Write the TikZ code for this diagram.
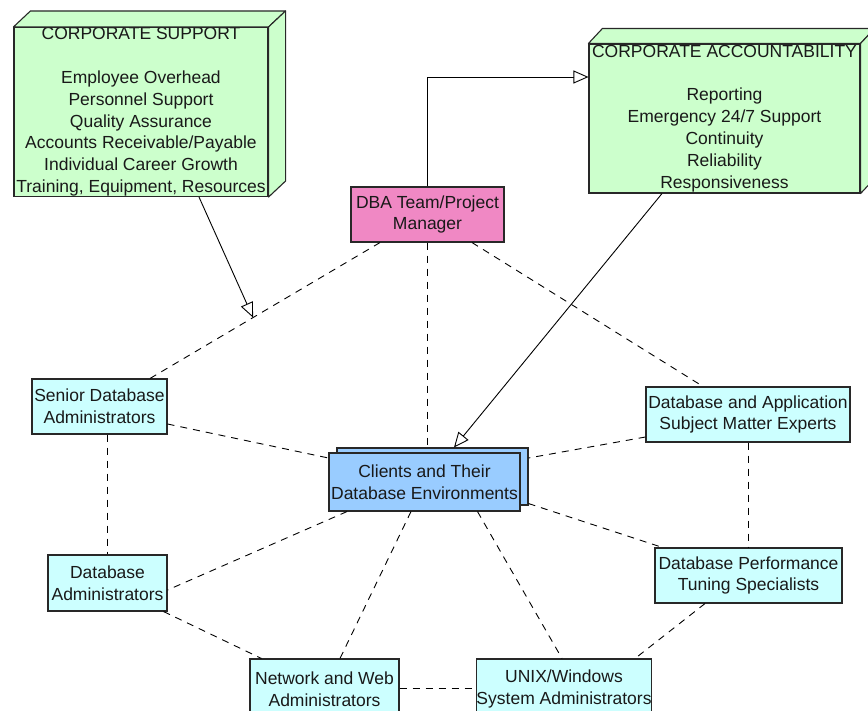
\documentclass[tikz,border=0pt]{standalone}
\usepackage{fontspec}
\setmainfont{Liberation Sans}
\usetikzlibrary{arrows.meta,calc}
\definecolor{supportgreen}{RGB}{204,255,204}
\definecolor{rolecyan}{RGB}{204,255,255}
\definecolor{clientblue}{RGB}{153,204,255}
\definecolor{leadpink}{RGB}{240,136,196}
\definecolor{edgegray}{RGB}{40,40,40}
\begin{document}
\begin{tikzpicture}[x=1pt,y=-1pt,
  every node/.style={font=\fontsize{17.5}{21.8}\selectfont, align=center, inner sep=0pt, text=black!90},
  role/.style={draw=edgegray, line width=1.1pt, fill=rolecyan},
  block/.style={role, fill=supportgreen},
  face/.style={draw=edgegray, line width=1.1pt, fill=supportgreen, line join=round},
  link/.style={line width=0.9pt, dash pattern=on 7pt off 6pt},
  feed/.style={line width=0.9pt, -{Triangle[length=15pt,width=13pt,fill=white]}},
]
\useasboundingbox (0,0) rectangle (868,710);
\clip (0,0) rectangle (868,710);
\fill[white] (0,0) rectangle (868,710);

% corporate blocks (drawn as boxes with depth)
\node[block, minimum width=254pt, minimum height=169pt] (cs) at (141,112)
  {CORPORATE SUPPORT\\[21.8pt]Employee Overhead\\Personnel Support\\Quality Assurance\\Accounts Receivable/Payable\\Individual Career Growth\\Training, Equipment, Resources};
\draw[face] (cs.north west) -- ++(17,-16) -- ($(cs.north east)+(17,-16)$) -- (cs.north east) -- cycle;
\draw[face] (cs.north east) -- ++(17,-16) -- ($(cs.south east)+(17,-16)$) -- (cs.south east) -- cycle;

\node[block, minimum width=271pt, minimum height=149pt] (ca) at (724.5,118.5)
  {CORPORATE ACCOUNTABILITY\\[21.8pt]Reporting\\Emergency 24/7 Support\\Continuity\\Reliability\\Responsiveness};
\draw[face] (ca.north west) -- ++(14,-15) -- ($(ca.north east)+(14,-15)$) -- (ca.north east) -- cycle;
\draw[face] (ca.north east) -- ++(14,-15) -- ($(ca.south east)+(14,-15)$) -- (ca.south east) -- cycle;

% team lead
\node[role, fill=leadpink, minimum width=153pt, minimum height=55pt] (dba) at (427.5,214.5)
  {DBA Team/Project\\Manager};

% clients (stacked)
\node[role, fill=clientblue, minimum width=191pt, minimum height=57pt] (clientsback) at (432.5,476.5) {};
\node[role, fill=clientblue, minimum width=191pt, minimum height=58pt] (clients) at (424.5,482)
  {Clients and Their\\Database Environments};

% support roles
\node[role, minimum width=135pt, minimum height=55pt] (senior) at (99.5,406.5)
  {Senior Database\\Administrators};
\node[role, minimum width=204pt, minimum height=55pt] (sme) at (748,414.5)
  {Database and Application\\Subject Matter Experts};
\node[role, minimum width=187pt, minimum height=55pt] (perf) at (748.5,575.5)
  {Database Performance\\Tuning Specialists};
\node[role, minimum width=119pt, minimum height=56pt] (dbadm) at (107.5,583)
  {Database\\Administrators};
\node[role, minimum width=149pt, minimum height=60pt] (netweb) at (324.5,689)
  {Network and Web\\Administrators};
\node[role, minimum width=156pt, minimum height=60pt] (unix) at (564,689)
  {UNIX/Windows\\System Administrators};

% working relationships
\draw[link] (dba.south) -- (dba.south |- clientsback.north);
\draw[link] ([xshift=-47.5pt]dba.south) -- coordinate[pos=0.552] (cstip) ([xshift=50.5pt]senior.north);
\draw[link] ([xshift=44.5pt]dba.south) -- ([xshift=-45pt]sme.north);
\draw[link] ([yshift=-17.5pt]senior.east) -- ([yshift=24pt]clients.west);
\draw[link] (dbadm.north |- senior.south) -- (dbadm.north);
\draw[link] ([yshift=-22.5pt]sme.west) -- ([yshift=18.5pt]clientsback.east);
\draw[link] (sme.south) -- (sme.south |- perf.north);
\draw[link] ([yshift=2pt]clientsback.south east) -- ([xshift=8pt]perf.north west);
\draw[link] ([xshift=-77.5pt]clients.south) -- ([yshift=-7pt]dbadm.east);
\draw[link] ([xshift=-13.5pt]clients.south) -- ([xshift=15.5pt]netweb.north);
\draw[link] ([xshift=53pt]clients.south) -- ([xshift=-2pt]unix.north);
\draw[link] ([xshift=-4pt]dbadm.south east) -- ([xshift=12pt]netweb.north west);
\draw[link] ([yshift=1pt]netweb.east) -- ([yshift=1pt]unix.west);
\draw[link] ([xshift=-43.5pt]perf.south) -- ([xshift=-17pt]unix.north east);

% reporting lines
\draw[feed] (dba.north) |- ([yshift=41.5pt]ca.west);
\draw[feed] ([xshift=58pt]cs.south) -- (cstip);
\draw[feed] ([xshift=-62.5pt]ca.south) -- ([xshift=21.5pt]clientsback.north);
\end{tikzpicture}
\end{document}
